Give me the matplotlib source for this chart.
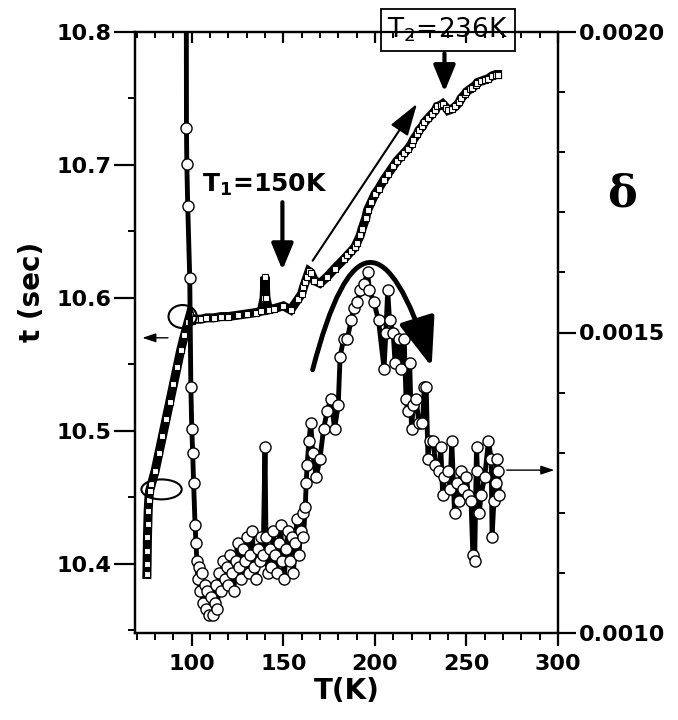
import matplotlib
matplotlib.use("Agg")
import matplotlib.pyplot as plt
from matplotlib.patches import Ellipse, FancyArrowPatch
from matplotlib.ticker import MultipleLocator, FormatStrFormatter

# ---- data: t (sec) vs T(K), left axis ----
T_t = [75.5, 75.6, 75.7, 75.8, 76.0, 76.2, 76.5, 77.0, 78.0, 80.0, 82.0, 84.0, 86.0,
       88.0, 90.0, 92.0, 94.0, 96.0, 98.0, 99.0, 100.0, 102.0, 105.0, 108.0, 112.0,
       116.0, 120.0, 125.0, 130.0, 135.0, 138.0, 139.5, 140.0, 140.5, 142.0, 145.0,
       150.0, 154.0, 158.0, 160.0, 161.0, 162.0, 163.0, 164.0, 165.0, 167.0, 170.0,
       174.0, 178.0, 183.0, 185.0, 187.0, 189.0, 190.0, 192.0, 193.0, 195.0, 196.0,
       198.0, 200.0, 202.0, 205.0, 207.0, 210.0, 212.0, 214.0, 216.0, 218.0, 220.0,
       221.0, 223.0, 224.0, 226.0, 227.0, 229.0, 231.0, 233.0, 234.0, 236.0, 237.0,
       239.0, 240.0, 242.0, 244.0, 246.0, 247.0, 249.0, 250.0, 252.0, 253.0, 255.0,
       256.0, 258.0, 260.0, 262.0, 264.0, 266.0, 267.0]
t_sec = [10.392, 10.400, 10.410, 10.420, 10.430, 10.440, 10.448, 10.455, 10.460, 10.470,
         10.483, 10.496, 10.509, 10.522, 10.535, 10.548, 10.561, 10.572, 10.582, 10.587,
         10.583, 10.584, 10.584, 10.585, 10.585, 10.586, 10.586, 10.587, 10.588, 10.589,
         10.590, 10.600, 10.616, 10.600, 10.591, 10.592, 10.594, 10.591, 10.599, 10.603,
         10.608, 10.612, 10.616, 10.620, 10.619, 10.613, 10.611, 10.616, 10.622, 10.629,
         10.632, 10.635, 10.638, 10.641, 10.647, 10.652, 10.660, 10.666, 10.672, 10.678,
         10.682, 10.689, 10.693, 10.699, 10.703, 10.706, 10.709, 10.712, 10.716, 10.719,
         10.723, 10.726, 10.729, 10.732, 10.735, 10.738, 10.741, 10.744, 10.745, 10.746,
         10.743, 10.741, 10.742, 10.744, 10.747, 10.750, 10.753, 10.755, 10.757, 10.758,
         10.760, 10.762, 10.763, 10.764, 10.765, 10.767, 10.768, 10.768]

# ---- data: delta vs T(K), right axis ----
T_d = [97.0, 97.1, 97.3, 97.8, 98.9, 99.5, 100.0, 100.5, 101.0, 101.8, 102.3, 102.8, 103.2,
       104.0, 104.5, 105.5, 106.0, 107.0, 108.0, 108.5, 109.5, 110.5, 111.5, 112.5, 113.0,
       114.0, 115.0, 116.0, 117.0, 118.0, 119.0, 120.0, 121.0, 122.0, 123.0, 124.0, 125.0,
       126.0, 127.0, 128.0, 129.0, 130.0, 131.0, 132.0, 133.0, 134.0, 135.0, 136.0, 137.0,
       138.0, 139.0, 140.0, 140.5, 141.5, 142.5, 143.5, 144.5, 145.5, 146.5, 147.5, 148.5,
       149.5, 150.5, 151.5, 152.5, 153.5, 154.5, 155.5, 156.5, 157.5, 158.5, 159.5, 160.5,
       161.0, 162.0, 162.5, 163.0, 164.0, 165.0, 166.0, 168.0, 170.0, 172.0, 174.0, 176.0,
       178.0, 180.0, 181.0, 183.0, 185.0, 187.0, 188.5, 190.5, 192.0, 194.0, 196.0, 197.0,
       199.5, 202.0, 205.0, 206.0, 207.0, 208.0, 210.0, 211.0, 213.0, 214.0, 216.0, 217.0,
       218.0, 219.0, 220.0, 221.0, 222.5, 224.0, 226.0, 227.0, 228.0, 229.0, 230.0, 232.0,
       233.0, 235.0, 236.0, 237.0, 238.0, 240.0, 241.0, 242.0, 243.5, 245.0, 246.0, 247.0,
       248.0, 250.0, 251.0, 252.5, 253.5, 254.5, 255.5, 256.0, 257.0, 258.0, 260.0, 262.0,
       263.5, 264.0, 265.0, 266.0, 266.5, 267.5, 268.0]
delta = [0.00210, 0.00184, 0.00178, 0.00171, 0.00159, 0.00141, 0.00134, 0.00130, 0.00125,
         0.00118, 0.00115, 0.00112, 0.00109, 0.00111, 0.00107, 0.00110, 0.00105, 0.00108,
         0.00104, 0.00107, 0.00103, 0.00106, 0.00103, 0.00105, 0.00108, 0.00104, 0.00110,
         0.00107, 0.00112, 0.00109, 0.00111, 0.00108, 0.00113, 0.00110, 0.00107, 0.00112,
         0.00115, 0.00111, 0.00109, 0.00114, 0.00112, 0.00116, 0.00110, 0.00113, 0.00117,
         0.00111, 0.00109, 0.00114, 0.00112, 0.00116, 0.00113, 0.00131, 0.00116, 0.00110,
         0.00114, 0.00111, 0.00117, 0.00113, 0.00110, 0.00115, 0.00118, 0.00112, 0.00109,
         0.00114, 0.00117, 0.00112, 0.00116, 0.00110, 0.00115, 0.00119, 0.00113, 0.00117,
         0.00120, 0.00116, 0.00121, 0.00125, 0.00128, 0.00132, 0.00135, 0.00130, 0.00126,
         0.00129, 0.00134, 0.00137, 0.00139, 0.00134, 0.00138, 0.00146, 0.00149, 0.00149,
         0.00152, 0.00154, 0.00155, 0.00157, 0.00158, 0.00160, 0.00157, 0.00155, 0.00152,
         0.00144, 0.00150, 0.00157, 0.00152, 0.00150, 0.00145, 0.00149, 0.00144, 0.00149,
         0.00139, 0.00137, 0.00145, 0.00134, 0.00138, 0.00139, 0.00135, 0.00135, 0.00141,
         0.00141, 0.00129, 0.00132, 0.00132, 0.00128, 0.00127, 0.00131, 0.00123, 0.00126,
         0.00127, 0.00124, 0.00132, 0.00120, 0.00125, 0.00122, 0.00127, 0.00124, 0.00126,
         0.00123, 0.00122, 0.00113, 0.00112, 0.00131, 0.00127, 0.00120, 0.00123, 0.00126,
         0.00132, 0.00129, 0.00116, 0.00122, 0.00125, 0.00129, 0.00127, 0.00123]

x_ticks = [100, 150, 200, 250, 300]
t_ticks = [10.4, 10.5, 10.6, 10.7, 10.8]
d_ticks = [0.0010, 0.0015, 0.0020]

plt.rcParams['font.family'] = ['DejaVu Sans']
plt.rcParams['mathtext.fontset'] = 'dejavusans'

fig = plt.figure(figsize=(6.78, 7.2), dpi=100)
ax = fig.add_axes([135/678, 1-633/720, (558-135)/678, (633-32)/720])
ax2 = ax.twinx()

ax.plot(T_t, t_sec, color='black', lw=6.5, marker='s', ms=4.6, mfc='white',
        mec='black', mew=0.8, zorder=3, solid_joinstyle='miter')
ax2.plot(T_d, delta, color='black', lw=3.5, marker='o', ms=8, mfc='white',
         mec='black', mew=1.0, zorder=3, clip_on=True)

ax.set_xlim(69, 300)
ax.set_ylim(10.348, 10.8)
ax2.set_ylim(0.0010, 0.0020)

ax.set_xticks(x_ticks)
ax.set_yticks(t_ticks)
ax2.set_yticks(d_ticks)
ax.xaxis.set_minor_locator(MultipleLocator(10))
ax.yaxis.set_minor_locator(MultipleLocator(0.05))
ax2.yaxis.set_minor_locator(MultipleLocator(0.0001))
ax.yaxis.set_major_formatter(FormatStrFormatter('%.1f'))
ax2.yaxis.set_major_formatter(FormatStrFormatter('%.4f'))

for a in (ax, ax2):
    for s in a.spines.values():
        s.set_linewidth(1.6)

ax.tick_params(axis='x', which='major', direction='out', length=9, width=1.6, pad=6,
               labelsize=16)
ax.tick_params(axis='x', which='minor', direction='out', length=5, width=1.4)
ax.tick_params(axis='y', which='major', direction='out', length=15, width=1.6, pad=2,
               labelsize=16)
ax.tick_params(axis='y', which='minor', direction='out', length=5, width=1.4)
ax2.tick_params(axis='y', which='major', direction='out', length=13, width=1.6, pad=2,
                labelsize=16)
ax2.tick_params(axis='y', which='minor', direction='out', length=5, width=1.4)
ax2.xaxis.set_visible(True)
ax2.xaxis.tick_top()
ax2.tick_params(axis='x', which='major', direction='in', length=8, width=1.6,
                labeltop=False, labelbottom=False)
ax2.tick_params(axis='x', which='minor', direction='in', length=4, width=1.4)

for lab in ax.get_xticklabels() + ax.get_yticklabels() + ax2.get_yticklabels():
    lab.set_fontweight('bold')

ax.set_xlabel('T(K)', fontsize=20, fontweight='bold', labelpad=2)
fig.text(32/678, 1-292/720, 't (sec)', rotation=90, fontsize=20, fontweight='bold',
         ha='center', va='center')
fig.text(622/678, 1-194/720, 'δ', fontsize=32, fontweight='bold', family='DejaVu Serif',
         ha='center', va='center')

# annotations
ax.text(105.5, 10.685, r'T$_\mathbf{1}$=150K', fontsize=18, fontweight='bold',
        ha='left', va='center', zorder=5)
ax.annotate('', xy=(149.5, 10.621), xytext=(149.5, 10.672),
            arrowprops=dict(arrowstyle='-|>,head_length=0.8,head_width=0.33', lw=3,
                            color='black', mutation_scale=20, shrinkA=0, shrinkB=0))
ax.text(240, 10.8015, r'T$_2$=236K', fontsize=19, ha='center', va='center',
        zorder=6, clip_on=False,
        bbox=dict(boxstyle='square,pad=0.25', fc='white', ec='black', lw=1.3))
ax.annotate('', xy=(238, 10.755), xytext=(238, 10.784),
            arrowprops=dict(arrowstyle='-|>,head_length=0.8,head_width=0.33', lw=3,
                            color='black', mutation_scale=20, shrinkA=0, shrinkB=0))
ax.annotate('', xy=(223, 10.746), xytext=(166, 10.628),
            arrowprops=dict(arrowstyle='-|>,head_length=1.1,head_width=0.35', lw=1.5,
                            color='black', mutation_scale=18, shrinkA=0, shrinkB=0))
ax.annotate('', xy=(73, 10.570), xytext=(87, 10.570),
            arrowprops=dict(arrowstyle='-|>,head_length=0.9,head_width=0.3', lw=1.0,
                            color='black', mutation_scale=9, shrinkA=0, shrinkB=0))
ax2.annotate('', xy=(298, 0.001271), xytext=(272, 0.001271),
             arrowprops=dict(arrowstyle='-|>,head_length=0.9,head_width=0.3', lw=1.0,
                             color='black', mutation_scale=9, shrinkA=0, shrinkB=0))

ax.add_patch(Ellipse((95, 10.586), 15.4, 0.0173, fill=False, lw=1.5, ec='black', zorder=4))
ax.add_patch(Ellipse((83.5, 10.456), 22, 0.015, fill=False, lw=1.5, ec='black', zorder=4))

curve = FancyArrowPatch((166, 0.001438), (231, 0.001443), transform=ax2.transData,
                        connectionstyle='arc3,rad=-1.75',
                        arrowstyle='-|>,head_length=0.75,head_width=0.28',
                        mutation_scale=40, lw=3.5, color='black',
                        shrinkA=0, shrinkB=0, zorder=6)
ax2.add_patch(curve)

fig.savefig('out.png', dpi=100, facecolor='white')
